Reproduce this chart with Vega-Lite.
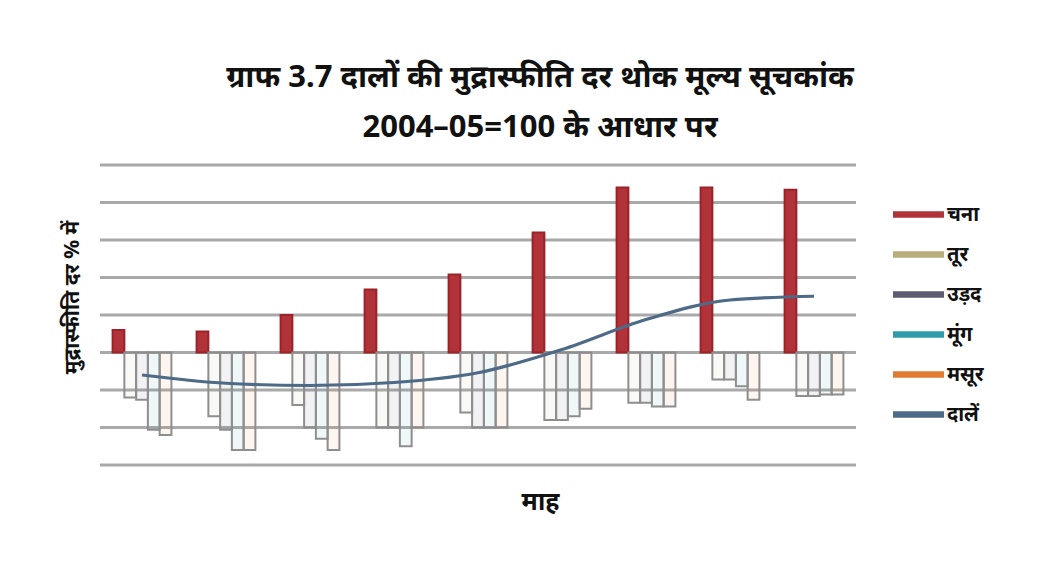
{
  "$schema": "https://vega.github.io/schema/vega-lite/v6.json",
  "width": 756,
  "height": 300,
  "autosize": {"type": "none"},
  "padding": {"left": 100, "top": 165, "right": 191, "bottom": 112},
  "background": "white",
  "datasets": {
    "grid": [
      {"v": -15}, {"v": -10}, {"v": -5}, {"v": 0}, {"v": 5}, {"v": 10}, {"v": 15}, {"v": 20}, {"v": 25}
    ],
    "bars": [
      {"month": "1", "series": "चना", "value": 3},
      {"month": "1", "series": "तूर", "value": -6},
      {"month": "1", "series": "उड़द", "value": -6.3},
      {"month": "1", "series": "मूंग", "value": -10.3},
      {"month": "1", "series": "मसूर", "value": -11},
      {"month": "2", "series": "चना", "value": 2.8},
      {"month": "2", "series": "तूर", "value": -8.5},
      {"month": "2", "series": "उड़द", "value": -10.3},
      {"month": "2", "series": "मूंग", "value": -13},
      {"month": "2", "series": "मसूर", "value": -13},
      {"month": "3", "series": "चना", "value": 5},
      {"month": "3", "series": "तूर", "value": -7},
      {"month": "3", "series": "उड़द", "value": -10},
      {"month": "3", "series": "मूंग", "value": -11.5},
      {"month": "3", "series": "मसूर", "value": -13},
      {"month": "4", "series": "चना", "value": 8.4},
      {"month": "4", "series": "तूर", "value": -10},
      {"month": "4", "series": "उड़द", "value": -10},
      {"month": "4", "series": "मूंग", "value": -12.5},
      {"month": "4", "series": "मसूर", "value": -10},
      {"month": "5", "series": "चना", "value": 10.4},
      {"month": "5", "series": "तूर", "value": -8},
      {"month": "5", "series": "उड़द", "value": -10},
      {"month": "5", "series": "मूंग", "value": -10},
      {"month": "5", "series": "मसूर", "value": -10},
      {"month": "6", "series": "चना", "value": 16},
      {"month": "6", "series": "तूर", "value": -9},
      {"month": "6", "series": "उड़द", "value": -9},
      {"month": "6", "series": "मूंग", "value": -8.5},
      {"month": "6", "series": "मसूर", "value": -7.5},
      {"month": "7", "series": "चना", "value": 22},
      {"month": "7", "series": "तूर", "value": -6.7},
      {"month": "7", "series": "उड़द", "value": -6.7},
      {"month": "7", "series": "मूंग", "value": -7.2},
      {"month": "7", "series": "मसूर", "value": -7.2},
      {"month": "8", "series": "चना", "value": 22},
      {"month": "8", "series": "तूर", "value": -3.6},
      {"month": "8", "series": "उड़द", "value": -3.6},
      {"month": "8", "series": "मूंग", "value": -4.5},
      {"month": "8", "series": "मसूर", "value": -6.3},
      {"month": "9", "series": "चना", "value": 21.7},
      {"month": "9", "series": "तूर", "value": -5.8},
      {"month": "9", "series": "उड़द", "value": -5.8},
      {"month": "9", "series": "मूंग", "value": -5.6},
      {"month": "9", "series": "मसूर", "value": -5.6}
    ],
    "line": [
      {"month": "1", "series": "दालें", "value": -3},
      {"month": "2", "series": "दालें", "value": -4.1},
      {"month": "3", "series": "दालें", "value": -4.4},
      {"month": "4", "series": "दालें", "value": -4},
      {"month": "5", "series": "दालें", "value": -2.7},
      {"month": "6", "series": "दालें", "value": 0.4},
      {"month": "7", "series": "दालें", "value": 4.4},
      {"month": "8", "series": "दालें", "value": 7},
      {"month": "9", "series": "दालें", "value": 7.5}
    ]
  },
  "title": {
    "text": ["ग्राफ 3.7 दालों की मुद्रास्फीति दर थोक मूल्य सूचकांक", "2004–05=100 के आधार पर"],
    "fontSize": 31,
    "fontWeight": "bold",
    "font": "Noto Sans",
    "color": "#111111",
    "lineHeight": 50,
    "anchor": "middle",
    "dx": 62,
    "offset": 20
  },
  "config": {
    "view": {"stroke": null},
    "font": "Noto Sans"
  },
  "layer": [
    {
      "data": {"name": "grid"},
      "mark": {"type": "rule", "color": "#a9a9a9", "strokeWidth": 3},
      "encoding": {
        "y": {
          "field": "v", "type": "quantitative",
          "scale": {"domain": [-15, 25], "nice": false},
          "axis": {"labels": false, "ticks": false, "domain": false, "grid": false, "title": "मुद्रास्फीति दर % में", "titleFontSize": 21, "titleFontWeight": "bold", "titleColor": "#111111", "titlePadding": 18, "titleY": 132}
        }
      }
    },
    {
      "data": {"name": "bars"},
      "mark": {"type": "bar", "strokeWidth": 2},
      "encoding": {
        "x": {
          "field": "month", "type": "nominal", "sort": ["1","2","3","4","5","6","7","8","9"],
          "scale": {"paddingInner": 0.3, "paddingOuter": 0.15},
          "axis": {"labels": false, "ticks": false, "domain": false, "grid": false, "title": "माह", "titleFontSize": 25, "titleFontWeight": "bold", "titlePadding": 24, "titleX": 440, "titleColor": "#111111"}
        },
        "xOffset": {"field": "series", "type": "nominal", "sort": ["चना","तूर","उड़द","मूंग","मसूर"]},
        "y": {"field": "value", "type": "quantitative"},
        "color": {
          "field": "series", "type": "nominal",
          "scale": {"domain": ["चना","तूर","उड़द","मूंग","मसूर","दालें"], "range": ["#b2323a","#b7ae7c","#5d5a72","#2f9cab","#e07b32","#4d6a87"]},
          "legend": {"title": null, "orient": "none", "legendX": 793, "legendY": 24, "symbolType": "M-1,-0.13H1V0.13H-1Z", "symbolSize": 2600, "symbolStrokeWidth": 0, "labelFontSize": 20, "labelFontWeight": "bold", "labelColor": "#111111", "labelOffset": 3, "rowPadding": 4, "labelFont": "Noto Sans"}
        },
        "fillOpacity": {"condition": {"test": "datum.series === 'चना'", "value": 1}, "value": 0.08},
        "stroke": {"condition": {"test": "datum.series === 'चना'", "value": "#9a2228"}, "value": "#8e8e8e"}
      }
    },
    {
      "data": {"name": "line"},
      "mark": {"type": "line", "strokeWidth": 3.2, "interpolate": "monotone"},
      "encoding": {
        "x": {"field": "month", "type": "nominal", "sort": ["1","2","3","4","5","6","7","8","9"]},
        "y": {"field": "value", "type": "quantitative"},
        "color": {"field": "series", "type": "nominal"}
      }
    }
  ]
}
